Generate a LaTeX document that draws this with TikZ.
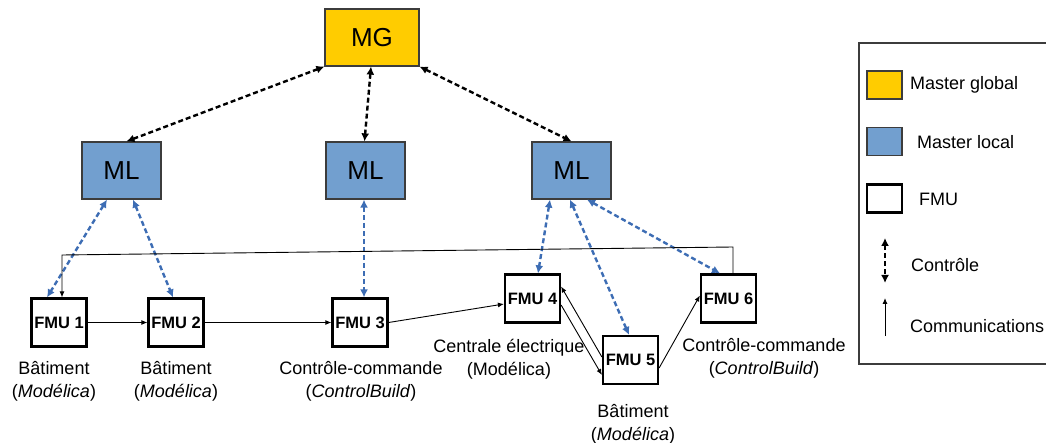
\documentclass[tikz,border=0pt]{standalone}
\usepackage{fontspec}
\setmainfont{Liberation Sans}
\usetikzlibrary{arrows.meta}
\definecolor{mgyellow}{HTML}{FFCC00}
\definecolor{mlblue}{HTML}{729FCF}
\definecolor{ctrlblue}{HTML}{3D6DB4}
\definecolor{edgegray}{HTML}{3C3C3C}
\begin{document}
\begin{tikzpicture}[x=1pt, y=-1pt,
  every node/.style={inner sep=0pt, font=\fontsize{18}{23}\selectfont},
  mgbox/.style={draw=edgegray, line width=1.2pt, fill=mgyellow, minimum width=94pt, minimum height=57pt, font=\fontsize{26}{30}\selectfont},
  mlbox/.style={draw=edgegray, line width=1.2pt, fill=mlblue, minimum width=79pt, minimum height=57pt, font=\fontsize{26}{30}\selectfont},
  fmubox/.style={draw=black, line width=2.2pt, fill=white, minimum width=55pt, minimum height=48pt, font=\fontsize{16.5}{18}\selectfont\bfseries},
  keybox/.style={draw=edgegray, line width=1.2pt, minimum width=35pt, minimum height=28pt},
  lbl/.style={align=center, anchor=north},
  ctrl/.style={line width=2.4pt, dash pattern=on 5pt off 3pt, {Latex[length=8pt,width=8pt]}-{Latex[length=8pt,width=8pt]}},
  ctrlb/.style={ctrl, draw=ctrlblue},
  com/.style={line width=0.9pt, -{Latex[length=6pt,width=5pt]}}]
  \useasboundingbox (0,0) rectangle (1046,443);
  % masters
  \node[mgbox] (MG) at (372,37.5) {MG};
  \node[mlbox] (ML1) at (121.5,170.5) {ML};
  \node[mlbox] (ML2) at (365.5,170.5) {ML};
  \node[mlbox] (ML3) at (571.5,170.5) {ML};
  % FMUs
  \node[fmubox] (FMU1) at (59,322.5) {FMU 1};
  \node[fmubox] (FMU2) at (176,322.5) {FMU 2};
  \node[fmubox] (FMU3) at (360,322.5) {FMU 3};
  \node[fmubox] (FMU4) at (532.5,298.5) {FMU 4};
  \node[fmubox] (FMU5) at (630.5,360) {FMU 5};
  \node[fmubox] (FMU6) at (728.5,298.5) {FMU 6};
  \node[lbl] (lbl1) at (54,361) {Bâtiment\\(\textit{Modélica})};
  \node[lbl] (lbl2) at (176,361) {Bâtiment\\(\textit{Modélica})};
  \node[lbl] (lbl3) at (361,361) {Contrôle-commande\\(\textit{ControlBuild})};
  \node[lbl] (lbl4) at (509,339) {Centrale électrique\\(Modélica)};
  \node[lbl] (lbl5) at (633,404) {Bâtiment\\(\textit{Modélica})};
  \node[lbl] (lbl6) at (764,338) {Contrôle-commande\\(\textit{ControlBuild})};
  % control
  \draw[ctrl] (MG.south west) -- ([xshift=5pt]ML1.north);
  \draw[ctrl] ([xshift=-1pt]MG.south) -- ([xshift=-1pt]ML2.north);
  \draw[ctrl] (MG.south east) -- (ML3.north);
  \draw[ctrlb] ([xshift=-14.5pt]ML1.south) -- ([xshift=-12pt]FMU1.north);
  \draw[ctrlb] ([xshift=11.5pt]ML1.south) -- ([xshift=-3pt]FMU2.north);
  \draw[ctrlb] ([xshift=-1.5pt]ML2.south) -- ([xshift=4pt]FMU3.north);
  \draw[ctrlb] ([xshift=-21.5pt]ML3.south) -- ([xshift=5.5pt]FMU4.north);
  \draw[ctrlb] ([xshift=-1.5pt]ML3.south) -- ([xshift=-1.5pt]FMU5.north);
  \draw[ctrlb] ([xshift=15.5pt]ML3.south) -- ([xshift=-8.5pt]FMU6.north);
  % communications
  \draw[com] (FMU1.east) -- (FMU2.west);
  \draw[com] (FMU2.east) -- (FMU3.west);
  \draw[com] (FMU3.east) -- ([yshift=-5.5pt]FMU4.west);
  \draw[com] ([yshift=3pt]FMU5.west) -- ([yshift=12pt]FMU4.east);
  \draw[com] ([yshift=-6.5pt]FMU4.east) -- ([yshift=-15pt]FMU5.west);
  \draw[com] ([yshift=-8pt]FMU5.east) -- ([yshift=3pt]FMU6.west);
  \coordinate (fbR) at (733,247);
  \coordinate (fbL) at (62,255);
  \draw[com] (FMU6.north -| fbR) -- (fbR) -- (fbL) -- (fbL |- FMU1.north);
  % legend
  \draw[line width=1.2pt, draw=edgegray] (859,43) rectangle (1052,364);
  \node[keybox, fill=mgyellow] (keyMG) at (884.5,85) {};
  \node[anchor=west] (keyMGtxt) at (910,85) {Master global};
  \node[keybox, fill=mlblue] (keyML) at (884.5,141.5) {};
  \node[anchor=west] (keyMLtxt) at (917,142) {Master local};
  \node[keybox, draw=black, line width=2.2pt, fill=white] (keyFMU) at (884.5,198.5) {};
  \node[anchor=west] (keyFMUtxt) at (919,199) {FMU};
  \coordinate (keyCtrlA) at (885,238);
  \coordinate (keyCtrlB) at (885,283);
  \draw[ctrl] (keyCtrlA) -- (keyCtrlB);
  \node[anchor=west] (keyCtrltxt) at (911,265) {Contrôle};
  \coordinate (keyComA) at (885,336);
  \coordinate (keyComB) at (885,298);
  \draw[com] (keyComA) -- (keyComB);
  \node[anchor=west] (keyComtxt) at (910,326) {Communications};
\end{tikzpicture}
\end{document}
